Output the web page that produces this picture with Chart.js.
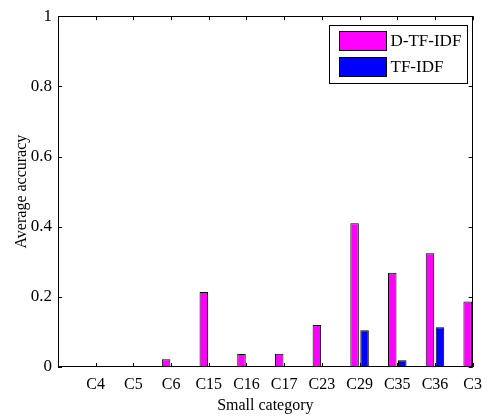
<!DOCTYPE html>
<html>
<head>
<meta charset="utf-8">
<title>Average accuracy by small category</title>
<script src="https://cdn.jsdelivr.net/npm/chart.js@4.4.0/dist/chart.umd.min.js"></script>
<style>
    html, body { margin: 0; padding: 0; background: #ffffff; overflow: hidden; }
    #wrap { position: relative; width: 490px; height: 419px; }
</style>
</head>
<body>
<div id="wrap"><canvas id="accuracyChart"></canvas></div>
<script>
// Chart data (first slot is the empty half-category at the left edge)
const categories = ['', 'C4', 'C5', 'C6', 'C15', 'C16', 'C17', 'C23', 'C29', 'C35', 'C36', 'C3'];
const dtfidfValues = [null, 0, 0, 0.022, 0.214, 0.037, 0.038, 0.12, 0.41, 0.269, 0.324, 0.187];
const tfidfValues = [null, 0, 0, 0, 0, 0, 0, 0, 0.105, 0.019, 0.113, null];
const yTickValues = [0, 0.2, 0.4, 0.6, 0.8, 1];

const SERIF = '"Liberation Serif", "Times New Roman", serif';

/**
 * Box frame, inward tick marks and boxed legend (MATLAB look)
 */
const framePlugin = {
    id: 'frame',
    afterDatasetsDraw(chart) {
        const { ctx, chartArea: a, scales: { x, y } } = chart;
        const len = 4;
        ctx.save();
        ctx.strokeStyle = '#000000';
        ctx.lineWidth = 1;

        // frame
        ctx.strokeRect(Math.round(a.left) + 0.5, Math.round(a.top) + 0.5,
            Math.round(a.width) - 1, Math.round(a.height) - 1);

        // ticks
        ctx.beginPath();
        x.ticks.forEach((t, i) => {
            const px = Math.round(x.getPixelForTick(i)) + 0.5;
            ctx.moveTo(px, a.bottom); ctx.lineTo(px, a.bottom - len);
            ctx.moveTo(px, a.top); ctx.lineTo(px, a.top + len);
        });
        y.ticks.forEach((t, i) => {
            const py = Math.round(y.getPixelForTick(i)) + 0.5;
            ctx.moveTo(a.left, py); ctx.lineTo(a.left + len, py);
            ctx.moveTo(a.right, py); ctx.lineTo(a.right - len, py);
        });
        ctx.stroke();

        // legend
        const boxW = 138, boxH = 58;
        const bx = Math.round(a.right - 6 - boxW) + 0.5;
        const by = Math.round(a.top + 9) + 0.5;
        ctx.fillStyle = '#ffffff';
        ctx.fillRect(bx, by, boxW, boxH);
        ctx.strokeRect(bx, by, boxW, boxH);
        ctx.font = '17px ' + SERIF;
        ctx.textBaseline = 'middle';
        chart.data.datasets.forEach((ds, i) => {
            const sy = by + 6 + i * 26;
            ctx.fillStyle = ds.backgroundColor;
            ctx.fillRect(bx + 10, sy, 47, 19);
            ctx.strokeRect(bx + 10, sy, 47, 19);
            ctx.fillStyle = '#000000';
            ctx.fillText(ds.label, bx + 61, sy + 10);
        });
        ctx.restore();
    }
};

function createAccuracyChart() {
    const ctx = document.getElementById('accuracyChart');

    new Chart(ctx, {
        type: 'bar',
        data: {
            labels: categories,
            datasets: [
                {
                    label: 'D-TF-IDF',
                    data: dtfidfValues,
                    backgroundColor: '#ff00ff',
                    borderColor: '#000000',
                    borderWidth: 1,
                    borderSkipped: false,
                    categoryPercentage: 0.53,
                    barPercentage: 0.85
                },
                {
                    label: 'TF-IDF',
                    data: tfidfValues,
                    backgroundColor: '#0000ff',
                    borderColor: '#000000',
                    borderWidth: 1,
                    borderSkipped: false,
                    categoryPercentage: 0.53,
                    barPercentage: 0.85
                }
            ]
        },
        options: {
            responsive: true,
            maintainAspectRatio: false,
            animation: false,
            layout: { padding: { top: 15, right: 15, left: 0, bottom: 0 } },
            plugins: {
                legend: { display: false },
                tooltip: { enabled: false }
            },
            scales: {
                x: {
                    offset: false,
                    grid: { display: false, drawTicks: false },
                    border: { display: false },
                    ticks: {
                        color: '#000000',
                        font: { family: SERIF, size: 16 },
                        padding: 8,
                        maxRotation: 0,
                        autoSkip: false
                    },
                    title: {
                        display: true,
                        text: 'Small category',
                        color: '#000000',
                        font: { family: SERIF, size: 16 },
                        padding: { top: 0, bottom: 4 }
                    },
                    afterFit: (scale) => { scale.height = 52; }
                },
                y: {
                    min: 0,
                    max: 1,
                    grid: { display: false, drawTicks: false },
                    border: { display: false },
                    afterBuildTicks: (scale) => {
                        scale.ticks = yTickValues.map(v => ({ value: v }));
                    },
                    ticks: {
                        color: '#000000',
                        font: { family: SERIF, size: 17 },
                        padding: 6,
                        callback: (v) => String(Math.round(v * 10) / 10)
                    },
                    title: {
                        display: true,
                        text: 'Average accuracy',
                        color: '#000000',
                        font: { family: SERIF, size: 16 },
                        padding: { top: 12, bottom: 0 }
                    },
                    afterFit: (scale) => { scale.width = 58; }
                }
            }
        },
        plugins: [framePlugin]
    });
}

document.addEventListener('DOMContentLoaded', createAccuracyChart);
</script>
</body>
</html>
